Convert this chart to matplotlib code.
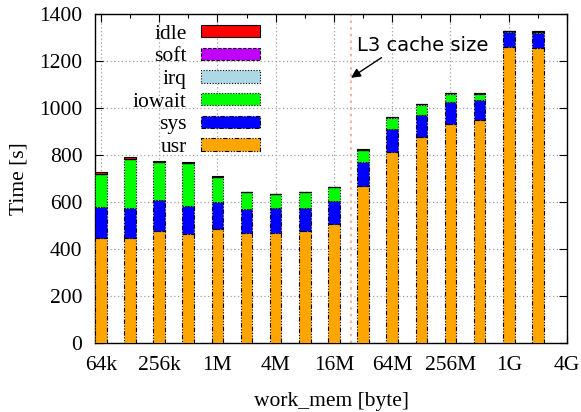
import numpy as np
import matplotlib
matplotlib.use("Agg")
import matplotlib.pyplot as plt
from matplotlib.ticker import FixedLocator

# work_mem settings in kB
work_mem_kb = [64, 128, 256, 512, 1024, 2048, 4096, 8192, 16384, 32768,
               65536, 131072, 262144, 524288, 1048576, 2097152]
tick_kb = [64, 256, 1024, 4096, 16384, 65536, 262144, 1048576, 4194304]
tick_labels = ['64k', '256k', '1M', '4M', '16M', '64M', '256M', '1G', '4G']

usr = [450, 450, 478, 464, 487, 469, 469, 478, 508, 670, 815, 878, 935, 951, 1260, 1257]
sys_ = [129, 126, 132, 122, 116, 103, 107, 98, 98, 103, 97, 95, 92, 85, 66, 64]
iowait = [142, 209, 162, 180, 105, 71, 59, 67, 58, 49, 49, 43, 36, 26, 1, 5]
irq = [0.5, 0.5, 0.5, 0.5, 0.5, 0.5, 0.5, 0.5, 0.5, 0.5, 0.5, 0.5, 0.5, 0.5, 0.5, 0.5]
soft = [1, 1, 1, 1, 1, 1, 1, 1, 1, 1, 1, 1, 1, 1, 1, 1]
idle = [7, 7, 3, 5, 1, 1, 1, 1, 1, 2, 1, 2, 1, 1, 1, 1]

l3_cache_kb = 24576

plt.rcParams['font.family'] = ['Liberation Serif', 'DejaVu Serif']
plt.rcParams['font.size'] = 15.5

fig = plt.figure(figsize=(5.81, 4.12), dpi=100)
ax = fig.add_axes([0.1635, 0.1663, 0.8125, 0.799])

x = np.log2(np.array(work_mem_kb))
width = 0.4

series = [
    ('usr', usr, '#ffa500', (0, (4, 1.5, 1, 1.5, 1, 1.5))),
    ('sys', sys_, '#0000ff', (0, (4, 1.5, 1, 1.5))),
    ('iowait', iowait, '#00ff00', (0, (1, 1.5))),
    ('irq', irq, '#add8e6', (0, (1, 1.5))),
    ('soft', soft, '#c000ff', (0, (3, 1.5))),
    ('idle', idle, '#ff0000', '-'),
]

bottom = np.zeros(len(x))
handles = {}
for name, vals, color, ls in series:
    vals = np.array(vals, dtype=float)
    bars = ax.bar(x, vals, width=width, bottom=bottom, color=color,
                  edgecolor='black', linewidth=0.8, linestyle=ls,
                  label=name, zorder=3)
    handles[name] = bars
    bottom = bottom + vals

# L3 cache marker
l3x = np.log2(l3_cache_kb)
ax.axvline(l3x, color='#ff9f80', linestyle=(0, (1.5, 2.5)), linewidth=1.2, zorder=2)
ax.annotate('L3 cache size', xy=(l3x, 1130), xytext=(l3x + 0.2, 1268),
            fontsize=14, family='DejaVu Sans', va='center', ha='left',
            arrowprops=dict(arrowstyle='-|>', color='black', lw=1,
                            shrinkA=0, shrinkB=0, mutation_scale=14,
                            relpos=(0.22, 0.0)))

ax.set_xlim(np.log2(work_mem_kb[0]) - 0.2, np.log2(tick_kb[-1]))
ax.set_ylim(0, 1400)
ax.set_xticks(np.log2(tick_kb))
ax.set_xticklabels(tick_labels)
ax.xaxis.set_minor_locator(FixedLocator(np.log2(tick_kb) + 1))
ax.set_yticks(np.arange(0, 1401, 200))

ax.tick_params(which='both', direction='in', top=True, right=True, width=0.8)
ax.tick_params(which='major', length=6, pad=9)
ax.tick_params(which='minor', length=3)
ax.grid(True, which='major', color='#a0a0a0', linestyle=(0, (1, 2)),
        linewidth=0.9, zorder=1)
ax.set_axisbelow(True)
for sp in ax.spines.values():
    sp.set_linewidth(1)

ax.set_xlabel('work_mem [byte]', labelpad=12)
ax.set_ylabel('Time [s]', labelpad=8)

order = ['idle', 'soft', 'irq', 'iowait', 'sys', 'usr']
leg = ax.legend([handles[n] for n in order], order, loc='upper left',
                frameon=False, markerfirst=False, handlelength=2.75,
                handleheight=0.5, labelspacing=0.17, handletextpad=0.65,
                borderaxespad=0.0, borderpad=0.0,
                bbox_to_anchor=(0.08, 0.968))
for t in leg.get_texts():
    t.set_ha('right')

fig.savefig('out.png', dpi=100)
